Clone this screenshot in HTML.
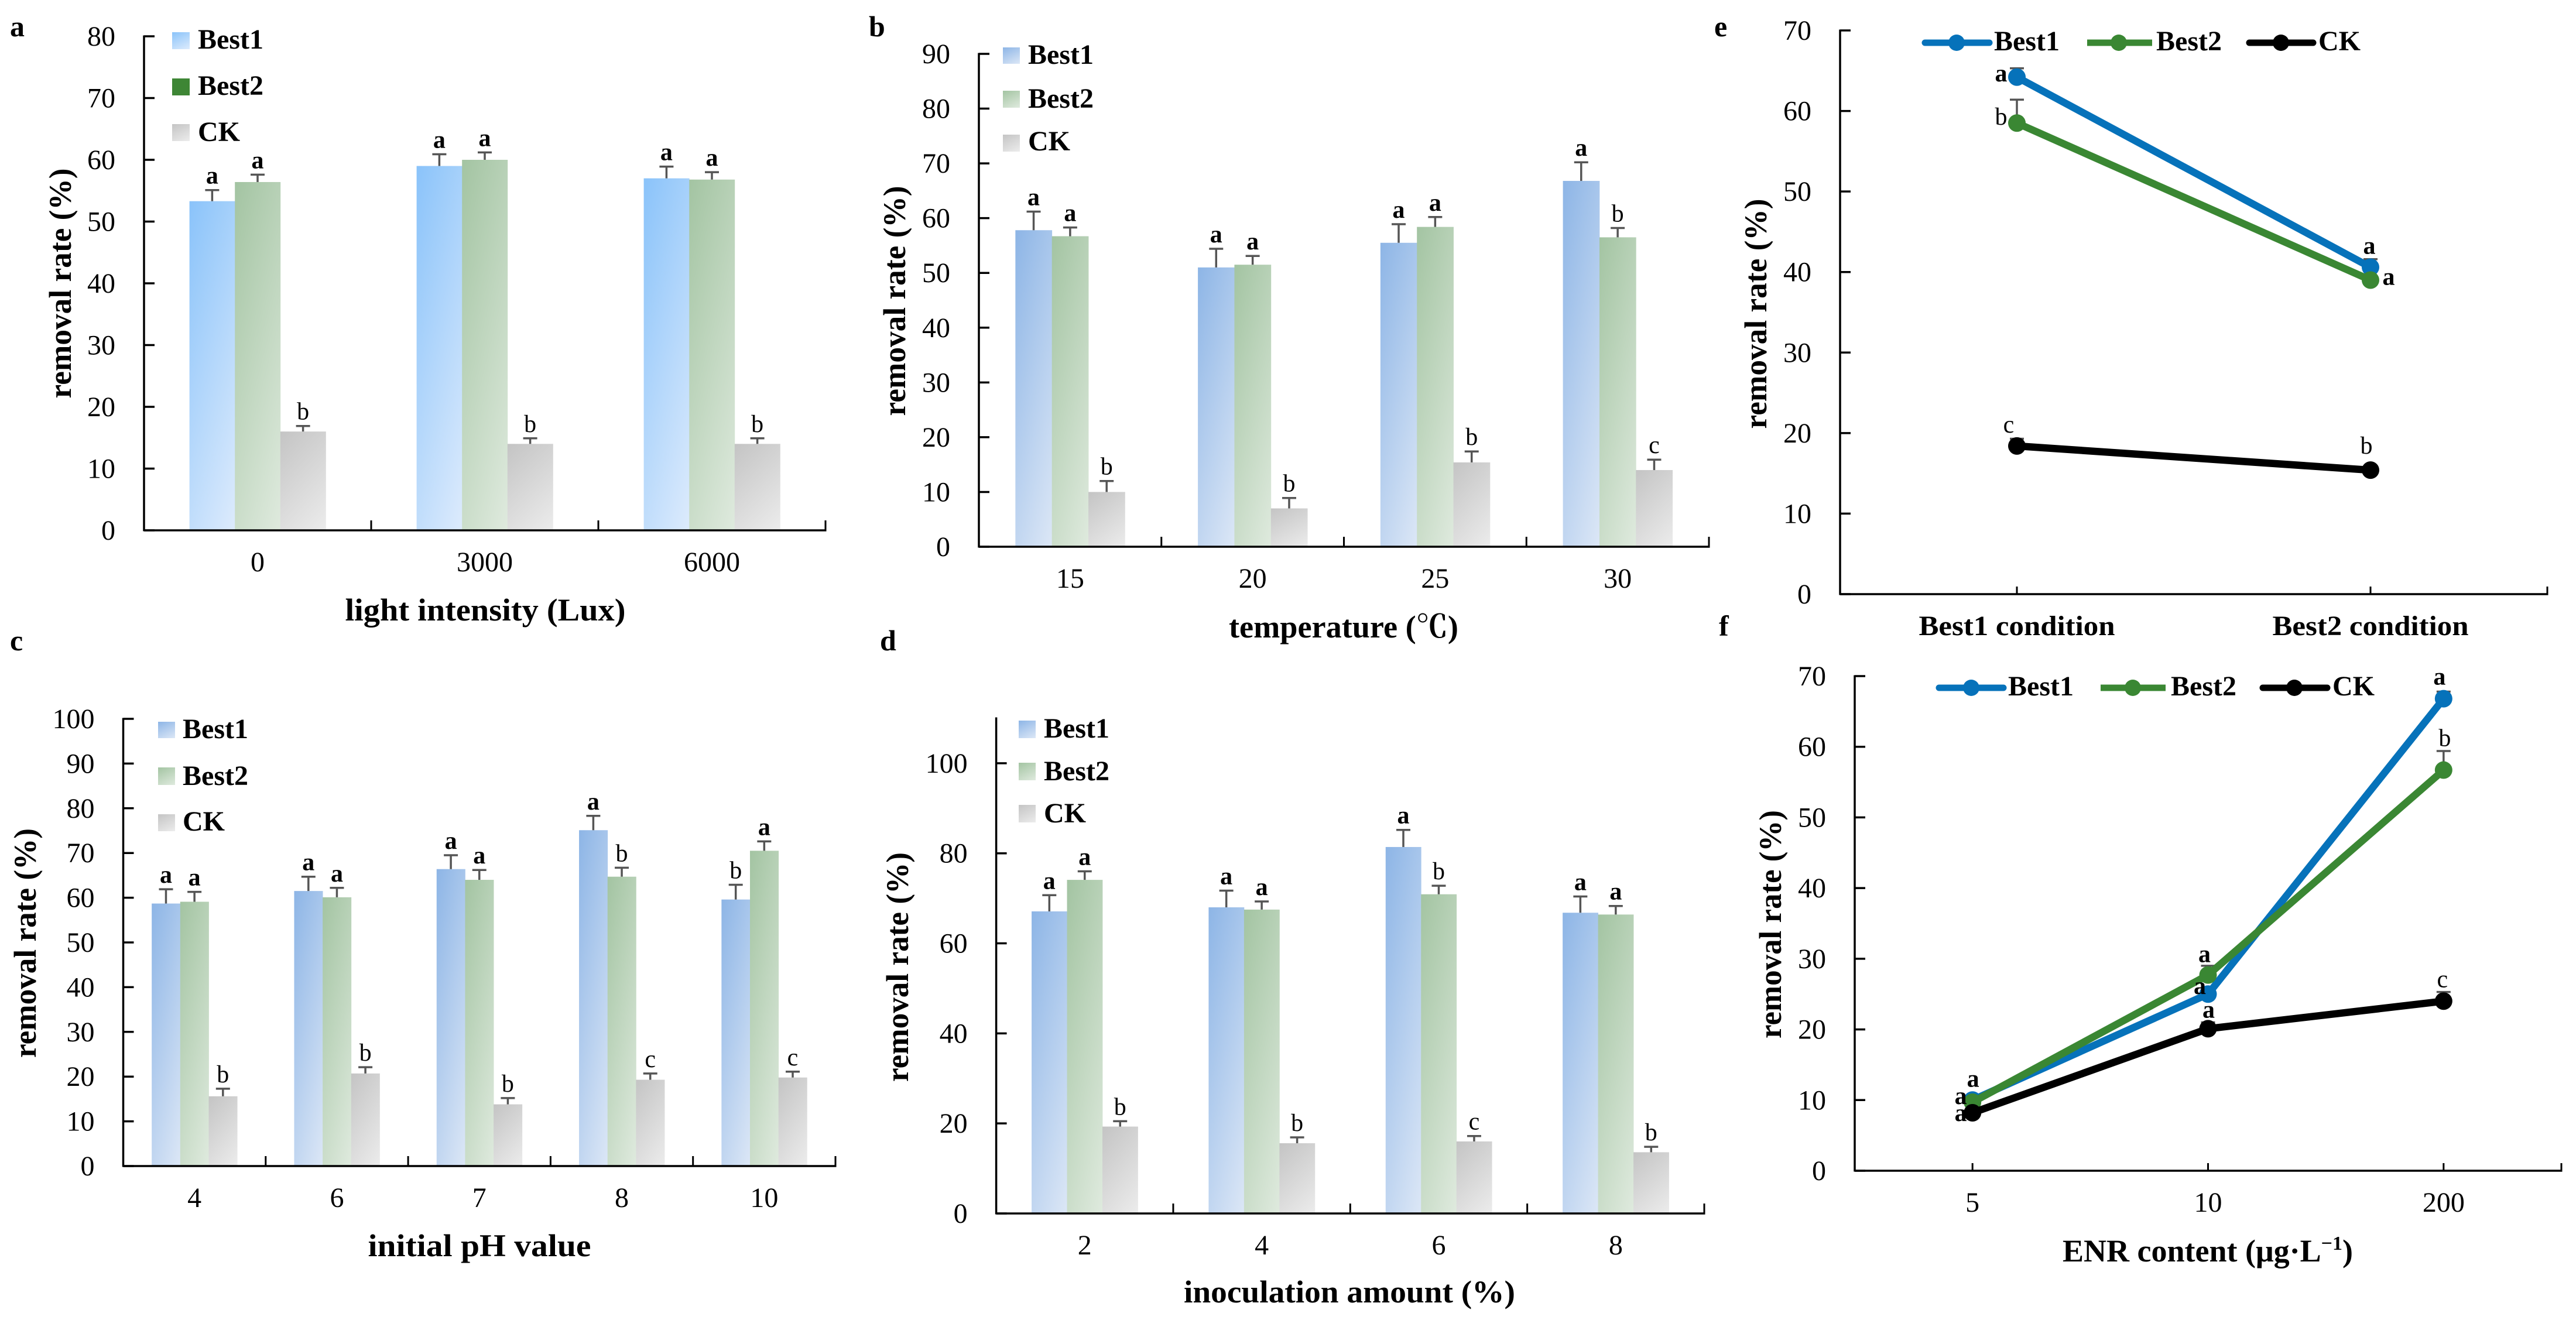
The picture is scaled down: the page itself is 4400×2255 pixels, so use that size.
<!DOCTYPE html>
<html>
<head>
<meta charset="utf-8">
<title>Removal rate panels</title>
<style>
html,body{margin:0;padding:0;background:#fff;}
svg{display:block;font-family:"Liberation Serif","Noto Serif CJK SC",serif;}
.ptitle{font-weight:bold;font-size:54px;fill:#000;}
.leg{font-weight:bold;font-size:48px;fill:#000;}
.letter{font-weight:bold;font-size:50px;fill:#000;}
</style>
</head>
<body>
<svg id="figure" xmlns="http://www.w3.org/2000/svg" width="4400" height="2255" viewBox="0 0 4400 2255">
<defs>
<linearGradient id="gA1" x1="0" y1="0" x2="0.6" y2="1.2"><stop offset="0" stop-color="#8AC3FA"/><stop offset="1" stop-color="#DDEBFC"/></linearGradient>
<linearGradient id="g1" x1="0" y1="0" x2="0.6" y2="1.2"><stop offset="0" stop-color="#8DB5E6"/><stop offset="1" stop-color="#DCE7F6"/></linearGradient>
<linearGradient id="g2" x1="0" y1="0" x2="0.6" y2="1.2"><stop offset="0" stop-color="#A3C4A2"/><stop offset="1" stop-color="#DFEADE"/></linearGradient>
<linearGradient id="g3" x1="0" y1="0" x2="0.6" y2="1.2"><stop offset="0" stop-color="#C4C4C4"/><stop offset="1" stop-color="#ECECEC"/></linearGradient>
</defs>
<rect x="0" y="0" width="4400" height="2255" fill="#fff"/>

<text class="letter" x="17" y="62">a</text>
<text class="letter" x="1484" y="62">b</text>
<text class="letter" x="17" y="1111">c</text>
<text class="letter" x="1503" y="1111">d</text>
<text class="letter" x="2928" y="62">e</text>
<text class="letter" x="2936" y="1086">f</text>

<text class="ptitle" text-anchor="middle" textLength="393" lengthAdjust="spacingAndGlyphs" transform="translate(121 484) rotate(-90)">removal rate (%)</text>
<text class="ptitle" text-anchor="middle" textLength="393" lengthAdjust="spacingAndGlyphs" transform="translate(1546 514) rotate(-90)">removal rate (%)</text>
<text class="ptitle" text-anchor="middle" textLength="392" lengthAdjust="spacingAndGlyphs" transform="translate(61 1611) rotate(-90)">removal rate (%)</text>
<text class="ptitle" text-anchor="middle" textLength="392" lengthAdjust="spacingAndGlyphs" transform="translate(1551 1652) rotate(-90)">removal rate (%)</text>
<text class="ptitle" text-anchor="middle" textLength="393" lengthAdjust="spacingAndGlyphs" transform="translate(3017 536) rotate(-90)">removal rate (%)</text>
<text class="ptitle" text-anchor="middle" textLength="390" lengthAdjust="spacingAndGlyphs" transform="translate(3042 1579) rotate(-90)">removal rate (%)</text>

<text class="ptitle" text-anchor="middle" x="829" y="1060" textLength="479" lengthAdjust="spacingAndGlyphs">light intensity (Lux)</text>
<text class="ptitle" text-anchor="middle" x="2295" y="1089" textLength="392" lengthAdjust="spacingAndGlyphs">temperature (℃)</text>
<text class="ptitle" text-anchor="middle" x="819" y="2146" textLength="381" lengthAdjust="spacingAndGlyphs">initial pH value</text>
<text class="ptitle" text-anchor="middle" x="2305" y="2225" textLength="566" lengthAdjust="spacingAndGlyphs">inoculation amount (%)</text>
<text class="ptitle" text-anchor="middle" x="3771" y="2155">ENR content (μg·L<tspan font-size="34" dy="-20">−1</tspan><tspan dy="20">)</tspan></text>

<g>
<rect x="294" y="55" width="30" height="29" fill="url(#gA1)"/>
<text class="leg" x="338" y="83">Best1</text>
<rect x="294" y="134" width="30" height="29" fill="#3E8635"/>
<text class="leg" x="338" y="162">Best2</text>
<rect x="294" y="212" width="30" height="29" fill="url(#g3)"/>
<text class="leg" x="338" y="241">CK</text>
</g>
<g>
<rect x="1713" y="81" width="29" height="28" fill="url(#g1)"/>
<text class="leg" x="1756" y="109">Best1</text>
<rect x="1713" y="155" width="29" height="29" fill="url(#g2)"/>
<text class="leg" x="1756" y="184">Best2</text>
<rect x="1713" y="230" width="29" height="29" fill="url(#g3)"/>
<text class="leg" x="1756" y="257">CK</text>
</g>
<g>
<rect x="270" y="1233" width="29" height="28" fill="url(#g1)"/>
<text class="leg" x="312" y="1261">Best1</text>
<rect x="270" y="1311" width="29" height="30" fill="url(#g2)"/>
<text class="leg" x="312" y="1341">Best2</text>
<rect x="270" y="1391" width="29" height="29" fill="url(#g3)"/>
<text class="leg" x="312" y="1419">CK</text>
</g>
<g>
<rect x="1740" y="1231" width="29" height="30" fill="url(#g1)"/>
<text class="leg" x="1783" y="1260">Best1</text>
<rect x="1740" y="1303" width="29" height="30" fill="url(#g2)"/>
<text class="leg" x="1783" y="1333">Best2</text>
<rect x="1740" y="1375" width="29" height="30" fill="url(#g3)"/>
<text class="leg" x="1783" y="1405">CK</text>
</g>
<g>
<line x1="3288" x2="3398" y1="73" y2="73" stroke="#0672BA" stroke-width="11" stroke-linecap="round"/>
<circle cx="3342" cy="73" r="14" fill="#0672BA"/>
<text class="leg" x="3406" y="86">Best1</text>
<line x1="3565" x2="3676" y1="73" y2="73" stroke="#3A8733" stroke-width="11"/>
<circle cx="3619" cy="73" r="14" fill="#3A8733"/>
<text class="leg" x="3683" y="86">Best2</text>
<line x1="3842" x2="3951" y1="73" y2="73" stroke="#000" stroke-width="11" stroke-linecap="round"/>
<circle cx="3896" cy="73" r="14" fill="#000"/>
<text class="leg" x="3960" y="86">CK</text>
</g>
<g>
<line x1="3312" x2="3422" y1="1175" y2="1175" stroke="#0672BA" stroke-width="11" stroke-linecap="round"/>
<circle cx="3367" cy="1175" r="14" fill="#0672BA"/>
<text class="leg" x="3430" y="1188">Best1</text>
<line x1="3588" x2="3699" y1="1175" y2="1175" stroke="#3A8733" stroke-width="11"/>
<circle cx="3643" cy="1175" r="14" fill="#3A8733"/>
<text class="leg" x="3708" y="1188">Best2</text>
<line x1="3865" x2="3975" y1="1175" y2="1175" stroke="#000" stroke-width="11" stroke-linecap="round"/>
<circle cx="3919" cy="1175" r="14" fill="#000"/>
<text class="leg" x="3984" y="1188">CK</text>
</g>
</svg>

<script>
/* ---------- panel a ---------- */
const aCategories = ['0', '3000', '6000'];
const aTicks = [0, 10, 20, 30, 40, 50, 60, 70, 80];
const aBest1 = [53.3, 59, 57];
const aBest2 = [56.4, 60, 56.8];
const aCK = [16, 14, 14];
const aBest1Err = [1.8, 1.9, 1.9];
const aBest2Err = [1.2, 1.2, 1.2];
const aCKErr = [0.9, 0.9, 0.9];
const aBest1Sig = ['a', 'a', 'a'];
const aBest2Sig = ['a', 'a', 'a'];
const aCKSig = ['b', 'b', 'b'];
/* ---------- panel b ---------- */
const bCategories = ['15', '20', '25', '30'];
const bTicks = [0, 10, 20, 30, 40, 50, 60, 70, 80, 90];
const bBest1 = [57.8, 51, 55.5, 66.8];
const bBest2 = [56.7, 51.5, 58.4, 56.5];
const bCK = [10, 7, 15.4, 14];
const bBest1Err = [3.4, 3.4, 3.4, 3.4];
const bBest2Err = [1.6, 1.6, 1.8, 1.7];
const bCKErr = [2, 1.9, 2, 1.9];
const bBest1Sig = ['a', 'a', 'a', 'a'];
const bBest2Sig = ['a', 'a', 'a', 'b'];
const bCKSig = ['b', 'b', 'b', 'c'];
/* ---------- panel c ---------- */
const cCategories = ['4', '6', '7', '8', '10'];
const cTicks = [0, 10, 20, 30, 40, 50, 60, 70, 80, 90, 100];
const cBest1 = [58.7, 61.5, 66.4, 75.1, 59.6];
const cBest2 = [59.1, 60.1, 64, 64.7, 70.5];
const cCK = [15.6, 20.7, 13.8, 19.3, 19.8];
const cBest1Err = [3.2, 3.2, 3.1, 3.2, 3.3];
const cBest2Err = [2.2, 2.1, 2.2, 2, 2.1];
const cCKErr = [1.7, 1.4, 1.4, 1.4, 1.3];
const cBest1Sig = ['a', 'a', 'a', 'a', 'b'];
const cBest2Sig = ['a', 'a', 'a', 'b', 'a'];
const cCKSig = ['b', 'b', 'b', 'c', 'c'];
/* ---------- panel d ---------- */
const dCategories = ['2', '4', '6', '8'];
const dTicks = [0, 20, 40, 60, 80, 100];
const dBest1 = [67.1, 68, 81.4, 66.8];
const dBest2 = [74.1, 67.5, 70.9, 66.4];
const dCK = [19.3, 15.6, 16, 13.6];
const dBest1Err = [3.6, 3.7, 3.8, 3.6];
const dBest2Err = [1.9, 1.8, 1.9, 1.9];
const dCKErr = [1.2, 1.3, 1.2, 1.2];
const dBest1Sig = ['a', 'a', 'a', 'a'];
const dBest2Sig = ['a', 'a', 'b', 'a'];
const dCKSig = ['b', 'b', 'c', 'b'];
/* ---------- panel e ---------- */
const eCategories = ['Best1 condition', 'Best2 condition'];
const eTicks = [0, 10, 20, 30, 40, 50, 60, 70];
const eBest1 = [64.2, 40.6];
const eBest2 = [58.5, 39];
const eCK = [18.4, 15.4];
const eBest1Err = [1.1, 1];
const eBest2Err = [2.9, 0.5];
const eCKErr = [0.9, 0.3];
const eBest1Sig = ['a', 'a'];
const eBest2Sig = ['b', 'a'];
const eCKSig = ['c', 'b'];
/* ---------- panel f ---------- */
const fCategories = ['5', '10', '200'];
const fTicks = [0, 10, 20, 30, 40, 50, 60, 70];
const fBest1 = [10, 25, 66.8];
const fBest2 = [9.7, 27.7, 56.7];
const fCK = [8.2, 20.1, 24];
const fBest1Err = [0.4, 0.6, 1];
const fBest2Err = [0.4, 1.3, 2.7];
const fCKErr = [0.3, 0.9, 1.3];
const fBest1Sig = ['a', 'a', 'a'];
const fBest2Sig = ['a', 'a', 'b'];
const fCKSig = ['a', 'a', 'c'];

const NS = 'http://www.w3.org/2000/svg';
const svg = document.getElementById('figure');

function mk(tag, attrs, parent, txt) {
  const el = document.createElementNS(NS, tag);
  for (const k in attrs) el.setAttribute(k, attrs[k]);
  if (txt !== undefined) el.textContent = txt;
  parent.appendChild(el);
  return el;
}

function axes(p, g) {
  const y = v => p.bottom - (v / p.max) * (p.bottom - p.top);
  const line1 = mk('line', {x1: p.left, x2: p.left, y1: y(p.max) - 1.5, y2: p.bottom + 1.5, stroke: '#000', 'stroke-width': 3.5}, g);
  
  
  const line2 = mk('line', {x1: p.left, x2: p.right + 1.5, y1: p.bottom, y2: p.bottom, stroke: '#000', 'stroke-width': 3.5}, g);
  
  
  p.ticks.forEach(v => {
    const t = mk('line', {x1: p.left, x2: p.left + 18, y1: y(v), y2: y(v), stroke: '#000', 'stroke-width': 3.5}, g);
    
    
    const l = mk('text', {x: p.left - 49, y: y(v) + 16, 'text-anchor': 'end', 'font-size': 48, fill: '#000'}, g, String(v));
    
    
  });
  const n = p.categories.length;
  const w = (p.right - p.left) / n;
  const px = i => p.left + w * (i + 0.5);
  p.categories.forEach((c, i) => {
    const attrs = {x: px(i), y: p.bottom + 70, 'text-anchor': 'middle', 'font-size': 48, fill: '#000'};
    if (p.boldCats) {
      attrs['font-weight'] = 'bold';
      attrs.textLength = 335;
      attrs.lengthAdjust = 'spacingAndGlyphs';
    }
    const l = mk('text', attrs, g, c);
    
    
  });
  const tickXs = p.type === 'bar'
    ? p.categories.map((c, i) => p.left + w * (i + 1))
    : p.categories.map((c, i) => px(i)).concat([p.right]);
  tickXs.forEach(x => {
    const t = mk('line', {x1: x, x2: x, y1: p.bottom, y2: p.bottom - (p.type === 'bar' ? 17 : 13), stroke: '#000', 'stroke-width': 3}, g);
    
    
  });
  return {y, px, w};
}

function errorBar(g, x, y0, y1) {
  const stem = mk('line', {x1: x, x2: x, y1: y0, y2: y1, stroke: '#555', 'stroke-width': 3.5}, g);
  
  
  const cap = mk('line', {x1: x - 12, x2: x + 12, y1: y1, y2: y1, stroke: '#555', 'stroke-width': 3.5}, g);
  
  
}

function sigLabel(g, x, y, s) {
  const t = mk('text', {x: x, y: y, 'text-anchor': 'middle', 'font-size': 42, 'font-weight': s === 'a' ? 'bold' : 'normal', fill: '#000'}, g, s);
  
  
}

function barPanel(p) {
  const g = mk('g', {}, svg);
  
  
  const w = (p.right - p.left) / p.categories.length;
  const bw = w / 5;
  const y = v => p.bottom - (v / p.max) * (p.bottom - p.top);
  p.series.forEach((s, si) => {
    s.values.forEach((v, i) => {
      const x = p.left + w * i + bw * (si + 1);
      const r = mk('rect', {x: x, y: y(v), width: bw + 0.4, height: p.bottom - y(v), fill: 'url(#' + s.grad + ')'}, g);
      
      
      const top = y(v + s.err[i]);
      errorBar(g, x + bw / 2, y(v), top);
      sigLabel(g, x + bw / 2, top - 11, s.sig[i]);
    });
  });
  axes(p, g);
}

function linePanel(p) {
  const g = mk('g', {}, svg);
  
  
  const a = axes(p, g);
  p.series.forEach(s => {
    s.values.forEach((v, i) => errorBar(g, a.px(i), a.y(v), a.y(v + s.err[i])));
  });
  p.series.forEach(s => {
    const pts = s.values.map((v, i) => a.px(i) + ',' + a.y(v)).join(' ');
    const l = mk('polyline', {points: pts, fill: 'none', stroke: s.color, 'stroke-width': 12.5, 'stroke-linejoin': 'round'}, g);
    
    
    s.values.forEach((v, i) => {
      const c = mk('circle', {cx: a.px(i), cy: a.y(v), r: 15, fill: s.color}, g);
      
      
    });
  });
  p.series.forEach(s => {
    s.values.forEach((v, i) => {
      sigLabel(g, a.px(i) + s.off[i][0], a.y(v) + s.off[i][1], s.sig[i]);
    });
  });
}

barPanel({id: 'a', type: 'bar', left: 246, right: 1410, top: 62, bottom: 906, max: 80, ticks: aTicks, categories: aCategories,
  series: [
    {name: 'best1', grad: 'gA1', values: aBest1, err: aBest1Err, sig: aBest1Sig},
    {name: 'best2', grad: 'g2', values: aBest2, err: aBest2Err, sig: aBest2Sig},
    {name: 'ck', grad: 'g3', values: aCK, err: aCKErr, sig: aCKSig}]});
barPanel({id: 'b', type: 'bar', left: 1672, right: 2919, top: 92, bottom: 934, max: 90, ticks: bTicks, categories: bCategories,
  series: [
    {name: 'best1', grad: 'g1', values: bBest1, err: bBest1Err, sig: bBest1Sig},
    {name: 'best2', grad: 'g2', values: bBest2, err: bBest2Err, sig: bBest2Sig},
    {name: 'ck', grad: 'g3', values: bCK, err: bCKErr, sig: bCKSig}]});
barPanel({id: 'c', type: 'bar', left: 210.5, right: 1427, top: 1228, bottom: 1992, max: 100, ticks: cTicks, categories: cCategories,
  series: [
    {name: 'best1', grad: 'g1', values: cBest1, err: cBest1Err, sig: cBest1Sig},
    {name: 'best2', grad: 'g2', values: cBest2, err: cBest2Err, sig: cBest2Sig},
    {name: 'ck', grad: 'g3', values: cCK, err: cCKErr, sig: cCKSig}]});
barPanel({id: 'd', type: 'bar', left: 1701.6, right: 2911, top: 1227, bottom: 2073, max: 110, ticks: dTicks, categories: dCategories,
  series: [
    {name: 'best1', grad: 'g1', values: dBest1, err: dBest1Err, sig: dBest1Sig},
    {name: 'best2', grad: 'g2', values: dBest2, err: dBest2Err, sig: dBest2Sig},
    {name: 'ck', grad: 'g3', values: dCK, err: dCKErr, sig: dCKSig}]});
linePanel({id: 'e', type: 'line', boldCats: true, left: 3143, right: 4351, top: 52, bottom: 1015, max: 70, ticks: eTicks, categories: eCategories,
  series: [
    {name: 'best1', color: '#0672BA', values: eBest1, err: eBest1Err, sig: eBest1Sig, off: [[-27, 7], [-2, -23]]},
    {name: 'best2', color: '#3A8733', values: eBest2, err: eBest2Err, sig: eBest2Sig, off: [[-27, 3], [31, 8]]},
    {name: 'ck', color: '#000000', values: eCK, err: eCKErr, sig: eCKSig, off: [[-14, -23], [-7, -28]]}]});
linePanel({id: 'f', type: 'line', left: 3168, right: 4375, top: 1155, bottom: 2000, max: 70, ticks: fTicks, categories: fCategories,
  series: [
    {name: 'best1', color: '#0672BA', values: fBest1, err: fBest1Err, sig: fBest1Sig, off: [[1, -23], [-14, 0], [-7, -24]]},
    {name: 'best2', color: '#3A8733', values: fBest2, err: fBest2Err, sig: fBest2Sig, off: [[-20, 3], [-6, -22], [2, -41]]},
    {name: 'ck', color: '#000000', values: fCK, err: fCKErr, sig: fCKSig, off: [[-20, 14], [1, -19], [-2, -24]]}]});
</script>
</body>
</html>
